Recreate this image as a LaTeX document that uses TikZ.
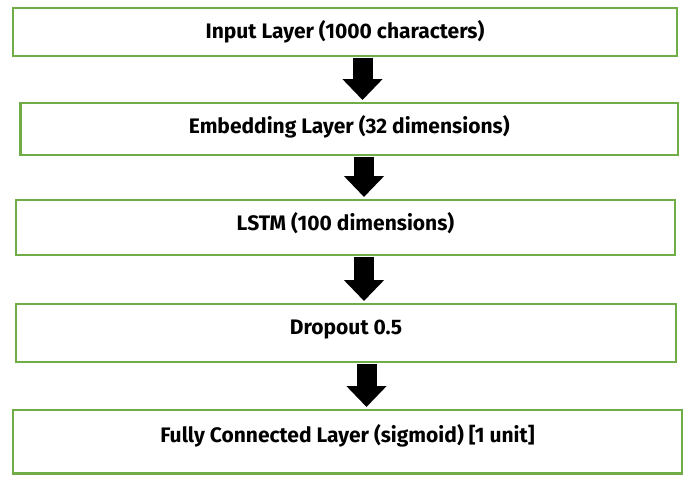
\documentclass[tikz,border=0pt]{standalone}
\usepackage{fontspec}
\setmainfont{Fira Sans}
\usepackage{xcolor}
\usetikzlibrary{positioning,arrows.meta}
\definecolor{layergreen}{RGB}{112,173,71}

\begin{document}
\begin{tikzpicture}[x=1pt, y=-1pt,
  layer/.style={draw=layergreen, line width=2.5pt, fill=white, anchor=north west, inner sep=0pt, outer sep=0pt},
  lbl/.style={anchor=base, inner sep=0pt, font=\fontsize{21}{24}\selectfont\bfseries},
  flow/.style={line width=20pt, -{Triangle[width=39pt, length=21pt]}, shorten <=1.5pt, shorten >=3pt}]

  \useasboundingbox (0,0) rectangle (694,483);

  \node[layer, minimum width=664pt, minimum height=48pt] (input) at (13,8) {};
  \node[layer, minimum width=657.5pt, minimum height=52pt] (embed) at (20.5,103) {};
  \node[layer, minimum width=659pt, minimum height=55pt] (lstm) at (16,200) {};
  \node[layer, minimum width=660pt, minimum height=58pt] (drop) at (16,304) {};
  \node[layer, minimum width=669pt, minimum height=63.5pt] (dense) at (13,410) {};

  \node[lbl] (inputtext) at ([yshift=-30pt]input.north) {Input Layer (1000 characters)};
  \node[lbl] (embedtext) at ([yshift=-30pt]embed.north) {Embedding Layer (32 dimensions)};
  \node[lbl] (lstmtext) at ([yshift=-30pt]lstm.north) {LSTM (100 dimensions)};
  \node[lbl] (droptext) at ([yshift=-30pt]drop.north) {Dropout 0.5};
  \node[lbl] (densetext) at ([yshift=-32pt]dense.north) {Fully Connected Layer (sigmoid) [1 unit]};

  % arrow columns
  \coordinate (c1) at (362.5,0);
  \coordinate (c2) at (364,0);
  \coordinate (c3) at (364,0);
  \coordinate (c4) at (366.5,0);

  \draw[flow] (input.south -| c1) -- (embed.north -| c1);
  \draw[flow] (embed.south -| c2) -- (lstm.north -| c2);
  \draw[flow] (lstm.south -| c3) -- (drop.north -| c3);
  \draw[flow] (drop.south -| c4) -- (dense.north -| c4);

\end{tikzpicture}
\end{document}
